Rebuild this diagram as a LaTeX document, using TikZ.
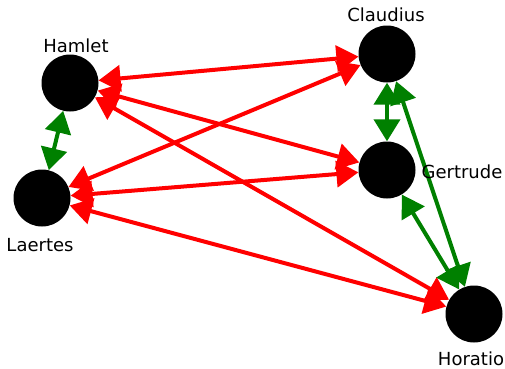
\documentclass[tikz,border=0pt]{standalone}
\usepackage{fontspec}
\setmainfont{DejaVu Sans}
\usetikzlibrary{arrows.meta}
\definecolor{ered}{RGB}{255,0,0}
\definecolor{egreen}{RGB}{0,128,0}
\tikzset{
  person/.style={circle, fill=black, minimum size=57pt, inner sep=0pt},
  lbl/.style={font=\fontsize{18}{21}\selectfont, inner sep=0pt, anchor=base},
  tip/.style={Triangle[length=22pt,width=26pt]},
  redlink/.style={draw=ered, line width=4pt, {Triangle[length=22pt,width=26pt]}-{Triangle[length=22pt,width=26pt]}},
  greenlink/.style={draw=egreen, line width=4pt, {Triangle[length=22pt,width=26pt]}-{Triangle[length=22pt,width=26pt]}}
}
\begin{document}
\begin{tikzpicture}[x=1pt,y=-1pt]
\useasboundingbox (0,0) rectangle (505,368);
\node[person] (ham) at (70,83) {};
\node[person] (lae) at (42,198) {};
\node[person] (cla) at (387,54) {};
\node[person] (ger) at (387,170) {};
\node[person] (hor) at (474,314) {};

\draw[redlink] (ham) -- (cla);
\draw[redlink] (ham) -- (ger);
\draw[redlink] (ham) -- (hor);
\draw[redlink] (lae) -- (cla);
\draw[redlink] (lae) -- (ger);
\draw[redlink] (lae) -- (hor);
\draw[greenlink] (ham) -- (lae);
\draw[greenlink] (cla) -- (ger);
\draw[greenlink] (cla) -- (hor);
\draw[greenlink] (ger) -- (hor);

\node[lbl] (lham) at (76,52) {Hamlet};
\node[lbl] (lcla) at (386,21) {Claudius};
\node[lbl] (llae) at (40,251) {Laertes};
\node[lbl] (lger) at (462,178) {Gertrude};
\node[lbl] (lhor) at (471,365) {Horatio};
\end{tikzpicture}
\end{document}
